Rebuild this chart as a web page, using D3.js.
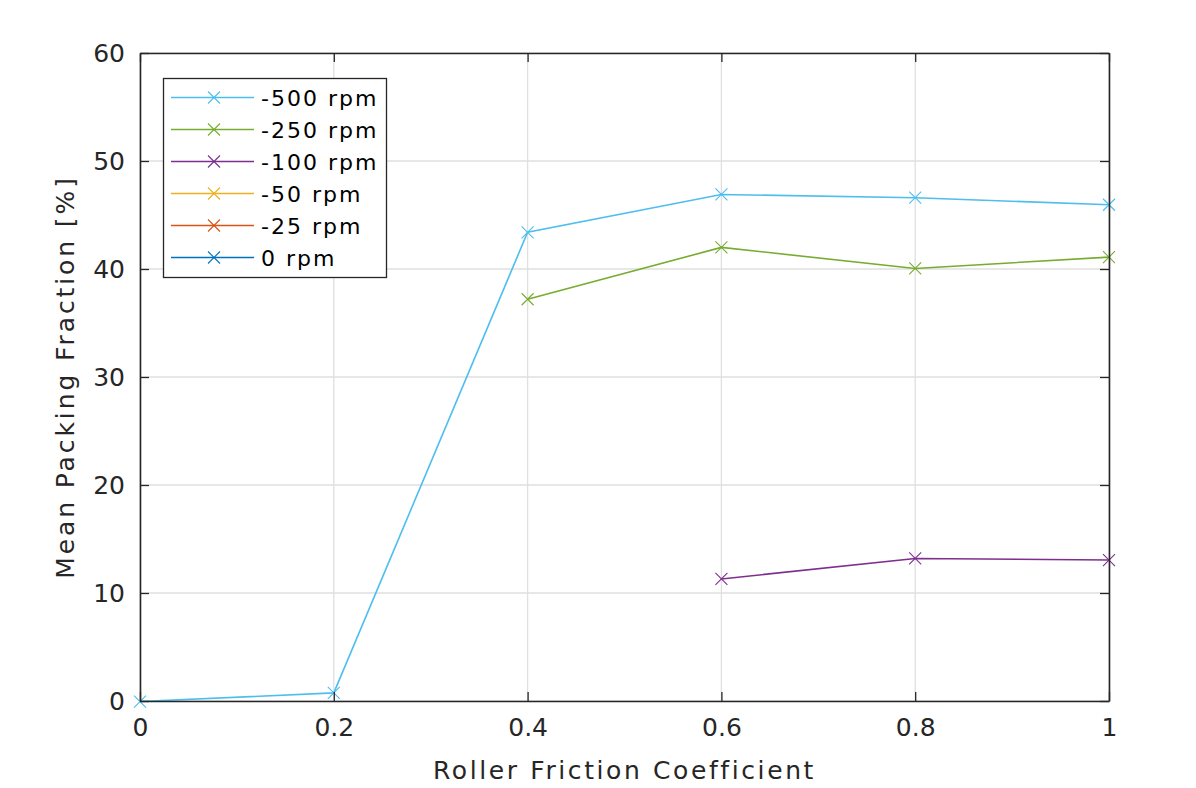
<!DOCTYPE html>
<html><head><meta charset="utf-8">
<script src="https://cdn.jsdelivr.net/npm/d3@7/dist/d3.min.js"></script>
<style>body{margin:0;background:#fff;} text{font-family:"DejaVu Sans",sans-serif;}</style>
</head><body><svg id="c" width="1196" height="788"></svg>
<script>
const xValues = [0, 0.2, 0.4, 0.6, 0.8, 1];
const seriesNames = ["-500 rpm", "-250 rpm", "-100 rpm", "-50 rpm", "-25 rpm", "0 rpm"];
const seriesColors = ["#4DBEEE", "#77AC30", "#7E2F8E", "#EDB120", "#D95319", "#0072BD"];
const vals500 = [-0.05, 0.75, 43.4, 46.9, 46.6, 45.95];
const vals250 = [null, null, 37.2, 42.0, 40.05, 41.1];
const vals100 = [null, null, null, 11.3, 13.2, 13.05];
const vals50 = [null, null, null, null, null, null];
const vals25 = [null, null, null, null, null, null];
const vals0 = [null, null, null, null, null, null];
const seriesValues = [vals500, vals250, vals100, vals50, vals25, vals0];
const xTicks = [0, 0.2, 0.4, 0.6, 0.8, 1];
const xTickLabels = ["0", "0.2", "0.4", "0.6", "0.8", "1"];
const yTicks = [0, 10, 20, 30, 40, 50, 60];

const svg = d3.select("#c");
const L = 140, R = 1109, T = 53, B = 701;
const x = d3.scaleLinear().domain([0, 1]).range([L, R]);
const y = d3.scaleLinear().domain([0, 60]).range([B, T]);
const axisColor = "#262626";

// grid
const g = svg.append("g");
g.selectAll(".gx").data(xTicks).enter().append("line")
  .attr("x1", d => x(d)).attr("x2", d => x(d)).attr("y1", T).attr("y2", B)
  .attr("stroke", "#dfdfdf").attr("stroke-width", 1.3);
g.selectAll(".gy").data(yTicks).enter().append("line")
  .attr("y1", d => y(d)).attr("y2", d => y(d)).attr("x1", L).attr("x2", R)
  .attr("stroke", "#dfdfdf").attr("stroke-width", 1.3);

// series
const line = d3.line().defined(d => d[1] !== null).x(d => x(d[0])).y(d => y(d[1]));
const ms = 6;
seriesValues.forEach((vals, i) => {
  const pts = xValues.map((xv, j) => [xv, vals[j]]);
  svg.append("path").datum(pts).attr("d", line).attr("fill", "none")
    .attr("stroke", seriesColors[i]).attr("stroke-width", 1.6);
  pts.filter(p => p[1] !== null).forEach(p => {
    const cx = x(p[0]), cy = y(p[1]);
    svg.append("path").attr("d", `M${cx-ms},${cy-ms}L${cx+ms},${cy+ms}M${cx-ms},${cy+ms}L${cx+ms},${cy-ms}`)
      .attr("stroke", seriesColors[i]).attr("stroke-width", 1.1).attr("fill", "none");
  });
});

// axes box and ticks
const xAxisB = d3.axisBottom(x).tickValues(xTicks).tickFormat((d, i) => xTickLabels[i]).tickSizeInner(-9).tickSizeOuter(0).tickPadding(17);
const xAxisT = d3.axisTop(x).tickValues(xTicks).tickFormat("").tickSizeInner(-9).tickSizeOuter(0);
const yAxisL = d3.axisLeft(y).tickValues(yTicks).tickSizeInner(-9).tickSizeOuter(0).tickPadding(15);
const yAxisR = d3.axisRight(y).tickValues(yTicks).tickFormat("").tickSizeInner(-9).tickSizeOuter(0);
function style(sel){
  sel.selectAll("path").attr("stroke", axisColor).attr("stroke-width", 1.6);
  sel.selectAll("line").attr("stroke", axisColor).attr("stroke-width", 1.3);
  sel.selectAll("text").attr("fill", axisColor).style("font-size", "25px")
    .style("font-family", "DejaVu Sans");
}
svg.append("g").attr("transform", `translate(0,${B})`).call(xAxisB).call(style);
svg.append("g").attr("transform", `translate(0,${T})`).call(xAxisT).call(style);
svg.append("g").attr("transform", `translate(${L},0)`).call(yAxisL).call(style);
svg.append("g").attr("transform", `translate(${R},0)`).call(yAxisR).call(style);

// labels
svg.append("text").attr("x", (L + R) / 2).attr("y", 779).attr("text-anchor", "middle")
  .attr("fill", axisColor).style("font-size", "25px").style("letter-spacing", "2.6px")
  .text("Roller Friction Coefficient");
svg.append("text").attr("transform", `translate(74,${(T + B) / 2}) rotate(-90)`).attr("text-anchor", "middle")
  .attr("fill", axisColor).style("font-size", "25px").style("letter-spacing", "2.9px")
  .text("Mean Packing Fraction [%]");

// legend
const lg = svg.append("g");
lg.append("rect").attr("x", 163.5).attr("y", 78.5).attr("width", 223).attr("height", 199)
  .attr("fill", "#fff").attr("stroke", axisColor).attr("stroke-width", 1.3);
seriesNames.forEach((name, i) => {
  const cy = 97.5 + i * 32;
  lg.append("line").attr("x1", 171).attr("x2", 254).attr("y1", cy).attr("y2", cy)
    .attr("stroke", seriesColors[i]).attr("stroke-width", 1.6);
  const cx = 214;
  lg.append("path").attr("d", `M${cx-ms},${cy-ms}L${cx+ms},${cy+ms}M${cx-ms},${cy+ms}L${cx+ms},${cy-ms}`)
    .attr("stroke", seriesColors[i]).attr("stroke-width", 1.1);
  lg.append("text").attr("x", 261).attr("y", cy + 8).attr("fill", "#000")
    .style("font-size", "22px").style("letter-spacing", "2px").text(name);
});
</script></body></html>
